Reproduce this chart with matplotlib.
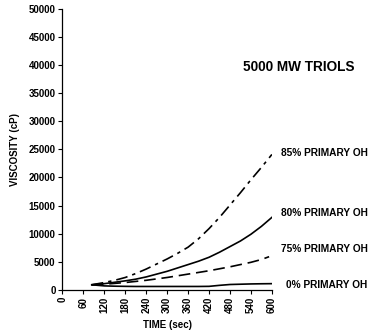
import matplotlib
matplotlib.use("Agg")
import matplotlib.pyplot as plt

# time axis (s) for each curve
time = [84, 120, 150, 180, 210, 240, 270, 300, 330, 360, 390, 420,
        450, 480, 510, 540, 570, 600]
time_75 = [84, 120, 150, 180, 210, 240, 270, 300, 330, 360, 390, 420,
           450, 480, 510, 540, 570, 592]

visc_85 = [900, 1300, 1700, 2200, 2900, 3700, 4600, 5500, 6500, 7600, 9100,
           10900, 12900, 15100, 17300, 19600, 21800, 24100]
visc_80 = [900, 1100, 1350, 1600, 1900, 2300, 2800, 3300, 3900, 4500, 5100,
           5800, 6700, 7700, 8700, 9900, 11300, 12900]
visc_75 = [900, 1000, 1150, 1300, 1500, 1700, 1950, 2200, 2500, 2800, 3100,
           3400, 3750, 4100, 4500, 4900, 5400, 5900]
visc_0 = [900, 700, 650, 620, 600, 600, 600, 600, 600, 600, 600, 620,
          800, 950, 1000, 1050, 1080, 1100]

labels = ["85% PRIMARY OH", "80% PRIMARY OH", "75% PRIMARY OH", "0% PRIMARY OH"]
label_y = [24400, 13700, 7300, 900]

x_ticks = list(range(0, 601, 60))
y_ticks = list(range(0, 50001, 5000))

plt.rcParams["font.family"] = ["Liberation Sans", "DejaVu Sans"]
plt.rcParams["font.weight"] = "bold"

fig = plt.figure(figsize=(3.74, 3.32), dpi=100)
ax = fig.add_axes([0.167, 0.127, 0.560, 0.846])

lw = 1.2
ax.plot(time, visc_85, color="black", lw=lw, dashes=(7, 3, 2, 3))
ax.plot(time, visc_80, color="black", lw=lw)
ax.plot(time_75, visc_75, color="black", lw=lw, dashes=(7, 3.5))
ax.plot(time, visc_0, color="black", lw=lw)

for txt, yv in zip(labels, label_y):
    ax.text(874, yv, txt, ha="right", va="center", fontsize=7.3,
            fontweight="bold", clip_on=False)

ax.text(676, 39700, "5000 MW TRIOLS", ha="center", va="center",
        fontsize=9.8, fontweight="bold", clip_on=False)

ax.set_xlim(0, 600)
ax.set_ylim(0, 50000)
ax.set_xticks(x_ticks)
ax.set_yticks(y_ticks)
ax.set_xticklabels([str(v) for v in x_ticks], rotation=90, fontsize=7,
                   fontweight="bold")
ax.set_yticklabels([str(v) for v in y_ticks], fontsize=7, fontweight="bold")
ax.tick_params(axis="both", length=3, width=0.8, pad=2, color="black")
for side in ("top", "right"):
    ax.spines[side].set_visible(False)
for side in ("left", "bottom"):
    ax.spines[side].set_linewidth(0.9)

ax.set_xlabel("TIME (sec)", fontsize=7, fontweight="bold", labelpad=5)
ax.set_ylabel("VISCOSITY (cP)", fontsize=7, fontweight="bold", labelpad=6)

fig.savefig("out.png", dpi=100)
